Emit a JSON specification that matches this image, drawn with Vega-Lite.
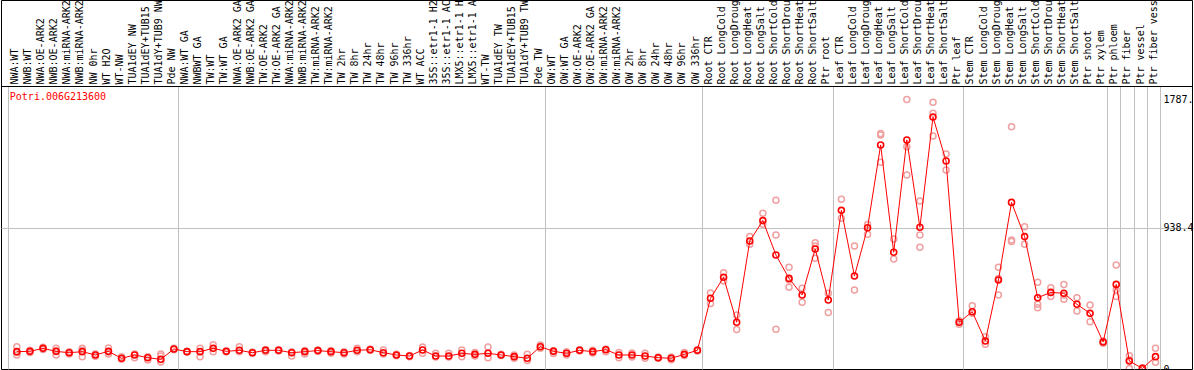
{
"$schema": "https://vega.github.io/schema/vega-lite/v6.json",
"autosize": "none",
"width": 1191,
"height": 369,
"padding": {"left": 1, "top": 0, "right": 2, "bottom": 1},
"background": "white",
"config": {"view": {"stroke": "black", "strokeWidth": 1}, "font": "DejaVu Sans Mono"},
"resolve": {"axis": {"x": "independent"}},
"datasets": {
"means": [
{"i":0,"s":"NWA:WT","v":115},{"i":1,"s":"NWB:WT","v":117},{"i":2,"s":"NWA:OE-ARK2","v":137},{"i":3,"s":"NWB:OE-ARK2","v":117},{"i":4,"s":"NWA:miRNA-ARK2","v":108},{"i":5,"s":"NWB:miRNA-ARK2","v":115},{"i":6,"s":"NW 0hr","v":93},{"i":7,"s":"WT H2O","v":117},{"i":8,"s":"WT-NW","v":71},{"i":9,"s":"TUA1dEY NW","v":93},{"i":10,"s":"TUA1dEY+TUB15 NW","v":75},{"i":11,"s":"TUA1dY+TUB9 NW","v":64},{"i":12,"s":"Pde NW","v":133},
{"i":13,"s":"NWA:WT GA","v":115},{"i":14,"s":"NWBWT GA","v":115},{"i":15,"s":"TW:WT","v":137},{"i":16,"s":"TW:WT GA","v":117},{"i":17,"s":"NWA:OE-ARK2 GA","v":124},{"i":18,"s":"NWB:OE-ARK2 GA","v":108},{"i":19,"s":"TW:OE-ARK2","v":124},{"i":20,"s":"TW:OE-ARK2 GA","v":124},{"i":21,"s":"NWA:miRNA-ARK2 GA","v":108},{"i":22,"s":"NWB:miRNA-ARK2 GA","v":115},{"i":23,"s":"TW:miRNA-ARK2","v":122},{"i":24,"s":"TW:miRNA-ARK2 GA","v":115},{"i":25,"s":"TW 2hr","v":108},{"i":26,"s":"TW 8hr","v":124},{"i":27,"s":"TW 24hr","v":128},{"i":28,"s":"TW 48hr","v":108},{"i":29,"s":"TW 96hr","v":93},{"i":30,"s":"TW 336hr","v":86},{"i":31,"s":"WT ACC","v":126},{"i":32,"s":"35S::etr1-1 H2O","v":86},{"i":33,"s":"35S::etr1-1 ACC","v":86},{"i":34,"s":"LMX5::etr1-1 H2O","v":104},{"i":35,"s":"LMX5::etr1-1 ACC","v":97},{"i":36,"s":"WT-TW","v":104},{"i":37,"s":"TUA1dEY TW","v":93},{"i":38,"s":"TUA1dEY+TUB15 TW","v":82},{"i":39,"s":"TUA1dY+TUB9 TW","v":71},{"i":40,"s":"Pde TW","v":148},
{"i":41,"s":"OW:WT","v":117},{"i":42,"s":"OW:WT GA","v":104},{"i":43,"s":"OW:OE-ARK2","v":124},{"i":44,"s":"OW:OE-ARK2 GA","v":115},{"i":45,"s":"OW:miRNA-ARK2","v":128},{"i":46,"s":"OW:miRNA-ARK2 GA","v":93},{"i":47,"s":"OW 2hr","v":93},{"i":48,"s":"OW 8hr","v":86},{"i":49,"s":"OW 24hr","v":75},{"i":50,"s":"OW 48hr","v":71},{"i":51,"s":"OW 96hr","v":97},{"i":52,"s":"OW 336hr","v":124},
{"i":53,"s":"Root CTR","v":469},{"i":54,"s":"Root LongCold","v":608},{"i":55,"s":"Root LongDrought","v":310},{"i":56,"s":"Root LongHeat","v":849},{"i":57,"s":"Root LongSalt","v":984},{"i":58,"s":"Root ShortCold","v":756},{"i":59,"s":"Root ShortDrought","v":601},{"i":60,"s":"Root ShortHeat","v":491},{"i":61,"s":"Root ShortSalt","v":796},{"i":62,"s":"Ptr root","v":458},
{"i":63,"s":"Leaf CTR","v":1052},{"i":64,"s":"Leaf LongCold","v":617},{"i":65,"s":"Leaf LongDrought","v":937},{"i":66,"s":"Leaf LongHeat","v":1486},{"i":67,"s":"Leaf LongSalt","v":774},{"i":68,"s":"Leaf ShortCold","v":1519},{"i":69,"s":"Leaf ShortDrought","v":940},{"i":70,"s":"Leaf ShortHeat","v":1671},{"i":71,"s":"Leaf ShortSalt","v":1379},{"i":72,"s":"Ptr leaf","v":310},
{"i":73,"s":"Stem CTR","v":380},{"i":74,"s":"Stem LongCold","v":186},{"i":75,"s":"Stem LongDrought","v":590},{"i":76,"s":"Stem LongHeat","v":1105},{"i":77,"s":"Stem LongSalt","v":878},{"i":78,"s":"Stem ShortCold","v":473},{"i":79,"s":"Stem ShortDrought","v":508},{"i":80,"s":"Stem ShortHeat","v":502},{"i":81,"s":"Stem ShortSalt","v":429},{"i":82,"s":"Ptr shoot","v":369},{"i":83,"s":"Ptr xylem","v":179},
{"i":84,"s":"Ptr phloem","v":561},{"i":85,"s":"Ptr fiber","v":53},{"i":86,"s":"Ptr vessel","v":4},{"i":87,"s":"Ptr fiber vessel","v":82}
],
"reps": [
{"s":"NWA:WT","v":148},{"s":"NWA:WT","v":93},{"s":"NWA:WT","v":110},
{"s":"NWB:WT","v":125},{"s":"NWB:WT","v":110},
{"s":"NWA:OE-ARK2","v":145},{"s":"NWA:OE-ARK2","v":130},
{"s":"NWB:OE-ARK2","v":137},{"s":"NWB:OE-ARK2","v":93},{"s":"NWB:OE-ARK2","v":120},
{"s":"NWA:miRNA-ARK2","v":115},{"s":"NWA:miRNA-ARK2","v":100},
{"s":"NWB:miRNA-ARK2","v":137},{"s":"NWB:miRNA-ARK2","v":82},{"s":"NWB:miRNA-ARK2","v":125},
{"s":"NW 0hr","v":100},{"s":"NW 0hr","v":85},
{"s":"WT H2O","v":140},{"s":"WT H2O","v":100},{"s":"WT H2O","v":112},
{"s":"WT-NW","v":82},{"s":"WT-NW","v":64},
{"s":"TUA1dEY NW","v":100},{"s":"TUA1dEY NW","v":75},
{"s":"TUA1dEY+TUB15 NW","v":82},{"s":"TUA1dEY+TUB15 NW","v":60},
{"s":"TUA1dY+TUB9 NW","v":100},{"s":"TUA1dY+TUB9 NW","v":46},{"s":"TUA1dY+TUB9 NW","v":86},
{"s":"Pde NW","v":138},{"s":"Pde NW","v":128},
{"s":"NWA:WT GA","v":118},{"s":"NWA:WT GA","v":112},
{"s":"NWBWT GA","v":137},{"s":"NWBWT GA","v":82},
{"s":"TW:WT","v":160},{"s":"TW:WT","v":115},
{"s":"TW:WT GA","v":120},{"s":"TW:WT GA","v":114},
{"s":"NWA:OE-ARK2 GA","v":148},{"s":"NWA:OE-ARK2 GA","v":115},
{"s":"NWB:OE-ARK2 GA","v":112},{"s":"NWB:OE-ARK2 GA","v":104},
{"s":"TW:OE-ARK2","v":130},{"s":"TW:OE-ARK2","v":115},
{"s":"TW:OE-ARK2 GA","v":128},{"s":"TW:OE-ARK2 GA","v":120},
{"s":"NWA:miRNA-ARK2 GA","v":115},{"s":"NWA:miRNA-ARK2 GA","v":86},
{"s":"NWB:miRNA-ARK2 GA","v":122},{"s":"NWB:miRNA-ARK2 GA","v":100},
{"s":"TW:miRNA-ARK2","v":126},{"s":"TW:miRNA-ARK2","v":118},
{"s":"TW:miRNA-ARK2 GA","v":122},{"s":"TW:miRNA-ARK2 GA","v":104},
{"s":"TW 2hr","v":115},{"s":"TW 2hr","v":100},
{"s":"TW 8hr","v":137},{"s":"TW 8hr","v":115},
{"s":"TW 24hr","v":132},{"s":"TW 24hr","v":124},
{"s":"TW 48hr","v":126},{"s":"TW 48hr","v":100},
{"s":"TW 96hr","v":97},{"s":"TW 96hr","v":88},
{"s":"TW 336hr","v":90},{"s":"TW 336hr","v":82},
{"s":"WT ACC","v":146},{"s":"WT ACC","v":104},
{"s":"35S::etr1-1 H2O","v":104},{"s":"35S::etr1-1 H2O","v":80},
{"s":"35S::etr1-1 ACC","v":104},{"s":"35S::etr1-1 ACC","v":80},
{"s":"LMX5::etr1-1 H2O","v":126},{"s":"LMX5::etr1-1 H2O","v":82},
{"s":"LMX5::etr1-1 ACC","v":110},{"s":"LMX5::etr1-1 ACC","v":86},
{"s":"WT-TW","v":146},{"s":"WT-TW","v":75},
{"s":"TUA1dEY TW","v":97},{"s":"TUA1dEY TW","v":90},
{"s":"TUA1dEY+TUB15 TW","v":93},{"s":"TUA1dEY+TUB15 TW","v":71},
{"s":"TUA1dY+TUB9 TW","v":97},{"s":"TUA1dY+TUB9 TW","v":57},
{"s":"Pde TW","v":159},{"s":"Pde TW","v":137},
{"s":"OW:WT","v":102},{"s":"OW:WT","v":122},
{"s":"OW:WT GA","v":115},{"s":"OW:WT GA","v":93},
{"s":"OW:OE-ARK2","v":128},{"s":"OW:OE-ARK2","v":120},
{"s":"OW:OE-ARK2 GA","v":124},{"s":"OW:OE-ARK2 GA","v":106},
{"s":"OW:miRNA-ARK2","v":133},{"s":"OW:miRNA-ARK2","v":115},
{"s":"OW:miRNA-ARK2 GA","v":110},{"s":"OW:miRNA-ARK2 GA","v":75},
{"s":"OW 2hr","v":106},{"s":"OW 2hr","v":80},
{"s":"OW 8hr","v":104},{"s":"OW 8hr","v":71},
{"s":"OW 24hr","v":80},{"s":"OW 24hr","v":71},
{"s":"OW 48hr","v":80},{"s":"OW 48hr","v":62},
{"s":"OW 96hr","v":110},{"s":"OW 96hr","v":90},
{"s":"OW 336hr","v":128},{"s":"OW 336hr","v":120},
{"s":"Root CTR","v":504},{"s":"Root CTR","v":434},
{"s":"Root LongCold","v":639},{"s":"Root LongCold","v":583},
{"s":"Root LongDrought","v":358},{"s":"Root LongDrought","v":262},
{"s":"Root LongHeat","v":878},{"s":"Root LongHeat","v":827},
{"s":"Root LongSalt","v":1033},{"s":"Root LongSalt","v":960},
{"s":"Root ShortCold","v":1119},{"s":"Root ShortCold","v":889},{"s":"Root ShortCold","v":263},
{"s":"Root ShortDrought","v":674},{"s":"Root ShortDrought","v":542},{"s":"Root ShortDrought","v":590},
{"s":"Root ShortHeat","v":535},{"s":"Root ShortHeat","v":442},
{"s":"Root ShortSalt","v":838},{"s":"Root ShortSalt","v":734},{"s":"Root ShortSalt","v":815},
{"s":"Ptr root","v":502},{"s":"Ptr root","v":374},
{"s":"Leaf CTR","v":1125},{"s":"Leaf CTR","v":999},
{"s":"Leaf LongCold","v":816},{"s":"Leaf LongCold","v":524},
{"s":"Leaf LongDrought","v":959},{"s":"Leaf LongDrought","v":893},
{"s":"Leaf LongHeat","v":1552},{"s":"Leaf LongHeat","v":1371},{"s":"Leaf LongHeat","v":1562},
{"s":"Leaf LongSalt","v":862},{"s":"Leaf LongSalt","v":730},
{"s":"Leaf ShortCold","v":1787.4},{"s":"Leaf ShortCold","v":1287},{"s":"Leaf ShortCold","v":1474},
{"s":"Leaf ShortDrought","v":1114},{"s":"Leaf ShortDrought","v":889},{"s":"Leaf ShortDrought","v":807},
{"s":"Leaf ShortHeat","v":1769},{"s":"Leaf ShortHeat","v":1696},{"s":"Leaf ShortHeat","v":1545},
{"s":"Leaf ShortSalt","v":1426},{"s":"Leaf ShortSalt","v":1320},
{"s":"Ptr leaf","v":296},{"s":"Ptr leaf","v":320},
{"s":"Stem CTR","v":420},{"s":"Stem CTR","v":370},
{"s":"Stem LongCold","v":214},{"s":"Stem LongCold","v":164},
{"s":"Stem LongDrought","v":674},{"s":"Stem LongDrought","v":491},{"s":"Stem LongDrought","v":600},
{"s":"Stem LongHeat","v":1607},{"s":"Stem LongHeat","v":856},{"s":"Stem LongHeat","v":845},
{"s":"Stem LongSalt","v":944},{"s":"Stem LongSalt","v":827},
{"s":"Stem ShortCold","v":575},{"s":"Stem ShortCold","v":407},{"s":"Stem ShortCold","v":430},
{"s":"Stem ShortDrought","v":539},{"s":"Stem ShortDrought","v":480},
{"s":"Stem ShortHeat","v":561},{"s":"Stem ShortHeat","v":462},{"s":"Stem ShortHeat","v":490},
{"s":"Stem ShortSalt","v":473},{"s":"Stem ShortSalt","v":385},
{"s":"Ptr shoot","v":424},{"s":"Ptr shoot","v":314},
{"s":"Ptr xylem","v":186},{"s":"Ptr xylem","v":170},
{"s":"Ptr phloem","v":690},{"s":"Ptr phloem","v":524},{"s":"Ptr phloem","v":480},
{"s":"Ptr fiber","v":88},{"s":"Ptr fiber","v":4},{"s":"Ptr fiber","v":60},
{"s":"Ptr vessel","v":0},{"s":"Ptr vessel","v":8},
{"s":"Ptr fiber vessel","v":137},{"s":"Ptr fiber vessel","v":44}
]
},
"layer": [
{
"data": {"name": "reps"},
"mark": {"type": "point", "shape": "circle", "filled": false, "size": 36, "strokeWidth": 1.5, "color": "#f0a0a0", "opacity": 1, "clip": true},
"encoding": {
"x": {"field": "s", "type": "nominal", "bandPosition": 0.64,
"scale": {"type": "band", "paddingInner": 0, "paddingOuter": 1.3077, "align": 0.2853,
"domain": ["NWA:WT","NWB:WT","NWA:OE-ARK2","NWB:OE-ARK2","NWA:miRNA-ARK2","NWB:miRNA-ARK2","NW 0hr","WT H2O","WT-NW","TUA1dEY NW","TUA1dEY+TUB15 NW","TUA1dY+TUB9 NW","Pde NW","NWA:WT GA","NWBWT GA","TW:WT","TW:WT GA","NWA:OE-ARK2 GA","NWB:OE-ARK2 GA","TW:OE-ARK2","TW:OE-ARK2 GA","NWA:miRNA-ARK2 GA","NWB:miRNA-ARK2 GA","TW:miRNA-ARK2","TW:miRNA-ARK2 GA","TW 2hr","TW 8hr","TW 24hr","TW 48hr","TW 96hr","TW 336hr","WT ACC","35S::etr1-1 H2O","35S::etr1-1 ACC","LMX5::etr1-1 H2O","LMX5::etr1-1 ACC","WT-TW","TUA1dEY TW","TUA1dEY+TUB15 TW","TUA1dY+TUB9 TW","Pde TW","OW:WT","OW:WT GA","OW:OE-ARK2","OW:OE-ARK2 GA","OW:miRNA-ARK2","OW:miRNA-ARK2 GA","OW 2hr","OW 8hr","OW 24hr","OW 48hr","OW 96hr","OW 336hr","Root CTR","Root LongCold","Root LongDrought","Root LongHeat","Root LongSalt","Root ShortCold","Root ShortDrought","Root ShortHeat","Root ShortSalt","Ptr root","Leaf CTR","Leaf LongCold","Leaf LongDrought","Leaf LongHeat","Leaf LongSalt","Leaf ShortCold","Leaf ShortDrought","Leaf ShortHeat","Leaf ShortSalt","Ptr leaf","Stem CTR","Stem LongCold","Stem LongDrought","Stem LongHeat","Stem LongSalt","Stem ShortCold","Stem ShortDrought","Stem ShortHeat","Stem ShortSalt","Ptr shoot","Ptr xylem","Ptr phloem","Ptr fiber","Ptr vessel","Ptr fiber vessel"," "]},
"axis": {"orient": "top", "offset": -86, "values": ["NWA:WT","NWA:WT GA","OW:WT","Root CTR","Leaf CTR","Stem CTR","Ptr phloem","Ptr fiber","Ptr vessel","Ptr fiber vessel"," "], "bandPosition": 0, "grid": true, "gridColor": "#c0c0c0", "gridWidth": 1, "gridOpacity": 1, "ticks": false, "labels": false, "domain": false, "title": null}},
"y": {"field": "v", "type": "quantitative",
"scale": {"domain": [0, 1876.8], "range": [369, 86], "nice": false, "zero": false},
"axis": {"orient": "right", "values": [0, 938.4, 1787.4, 1876.8],
"labelExpr": "datum.value == 0 ? '0' : datum.value == 938.4 ? '938.4' : datum.value == 1787.4 ? '1787.' : ''",
"grid": true,
"gridColor": {"condition": {"test": "datum.value > 1800", "value": "black"}, "value": "#c0c0c0"},
"gridOpacity": {"condition": {"test": "datum.value == 938.4 || datum.value > 1800", "value": 1}, "value": 0},
"ticks": false, "domain": false, "labelAlign": "left", "labelBaseline": "middle", "labelPadding": -29,
"labelFont": "DejaVu Sans Mono", "labelFontSize": 10, "labelColor": "black", "labelBound": false, "labelFlush": false, "labelOverlap": false,
"encode": {"labels": {"update": {"dy": {"signal": "datum.value == 0 ? -7 : datum.value > 1000 ? 10 : 2"}}}},
"title": "Potri.006G213600", "titleAngle": 0, "titleAlign": "left", "titleBaseline": "middle", "titleX": -1182.7, "titleY": 96.7,
"titleColor": "red", "titleFont": "DejaVu Sans Mono", "titleFontSize": 10, "titleFontWeight": "normal"}}
}
},
{
"data": {"name": "means"},
"mark": {"type": "line", "color": "red", "strokeWidth": 1, "clip": true},
"encoding": {
"order": {"field": "i", "type": "quantitative"},
"x": {"field": "s", "type": "nominal", "bandPosition": 0.64,
"scale": {"type": "band", "paddingInner": 0, "paddingOuter": 1.3077, "align": 0.2853,
"domain": ["NWA:WT","NWB:WT","NWA:OE-ARK2","NWB:OE-ARK2","NWA:miRNA-ARK2","NWB:miRNA-ARK2","NW 0hr","WT H2O","WT-NW","TUA1dEY NW","TUA1dEY+TUB15 NW","TUA1dY+TUB9 NW","Pde NW","NWA:WT GA","NWBWT GA","TW:WT","TW:WT GA","NWA:OE-ARK2 GA","NWB:OE-ARK2 GA","TW:OE-ARK2","TW:OE-ARK2 GA","NWA:miRNA-ARK2 GA","NWB:miRNA-ARK2 GA","TW:miRNA-ARK2","TW:miRNA-ARK2 GA","TW 2hr","TW 8hr","TW 24hr","TW 48hr","TW 96hr","TW 336hr","WT ACC","35S::etr1-1 H2O","35S::etr1-1 ACC","LMX5::etr1-1 H2O","LMX5::etr1-1 ACC","WT-TW","TUA1dEY TW","TUA1dEY+TUB15 TW","TUA1dY+TUB9 TW","Pde TW","OW:WT","OW:WT GA","OW:OE-ARK2","OW:OE-ARK2 GA","OW:miRNA-ARK2","OW:miRNA-ARK2 GA","OW 2hr","OW 8hr","OW 24hr","OW 48hr","OW 96hr","OW 336hr","Root CTR","Root LongCold","Root LongDrought","Root LongHeat","Root LongSalt","Root ShortCold","Root ShortDrought","Root ShortHeat","Root ShortSalt","Ptr root","Leaf CTR","Leaf LongCold","Leaf LongDrought","Leaf LongHeat","Leaf LongSalt","Leaf ShortCold","Leaf ShortDrought","Leaf ShortHeat","Leaf ShortSalt","Ptr leaf","Stem CTR","Stem LongCold","Stem LongDrought","Stem LongHeat","Stem LongSalt","Stem ShortCold","Stem ShortDrought","Stem ShortHeat","Stem ShortSalt","Ptr shoot","Ptr xylem","Ptr phloem","Ptr fiber","Ptr vessel","Ptr fiber vessel"," "]},
"axis": {"orient": "top", "offset": -86, "bandPosition": 0.64, "labelAngle": -90, "labelAlign": "left", "labelBaseline": "middle", "labelPadding": 2,
"labelFont": "DejaVu Sans Mono", "labelFontSize": 10, "labelColor": "black", "labelOverlap": false, "labelBound": false, "labelFlush": false, "labelLimit": 0,
"ticks": false, "domain": false, "grid": false, "title": null}},
"y": {"field": "v", "type": "quantitative",
"scale": {"domain": [0, 1876.8], "range": [369, 86], "nice": false, "zero": false},
"axis": {"orient": "right", "values": [0, 938.4, 1787.4, 1876.8],
"labelExpr": "datum.value == 0 ? '0' : datum.value == 938.4 ? '938.4' : datum.value == 1787.4 ? '1787.' : ''",
"grid": true,
"gridColor": {"condition": {"test": "datum.value > 1800", "value": "black"}, "value": "#c0c0c0"},
"gridOpacity": {"condition": {"test": "datum.value == 938.4 || datum.value > 1800", "value": 1}, "value": 0},
"ticks": false, "domain": false, "labelAlign": "left", "labelBaseline": "middle", "labelPadding": -29,
"labelFont": "DejaVu Sans Mono", "labelFontSize": 10, "labelColor": "black", "labelBound": false, "labelFlush": false, "labelOverlap": false,
"encode": {"labels": {"update": {"dy": {"signal": "datum.value == 0 ? -7 : datum.value > 1000 ? 10 : 2"}}}},
"title": "Potri.006G213600", "titleAngle": 0, "titleAlign": "left", "titleBaseline": "middle", "titleX": -1182.7, "titleY": 96.7,
"titleColor": "red", "titleFont": "DejaVu Sans Mono", "titleFontSize": 10, "titleFontWeight": "normal"}}
}
},
{
"data": {"name": "means"},
"mark": {"type": "point", "shape": "circle", "filled": false, "size": 36, "strokeWidth": 1.6, "color": "red", "opacity": 1, "clip": true},
"encoding": {
"x": {"field": "s", "type": "nominal", "bandPosition": 0.64,
"scale": {"type": "band", "paddingInner": 0, "paddingOuter": 1.3077, "align": 0.2853,
"domain": ["NWA:WT","NWB:WT","NWA:OE-ARK2","NWB:OE-ARK2","NWA:miRNA-ARK2","NWB:miRNA-ARK2","NW 0hr","WT H2O","WT-NW","TUA1dEY NW","TUA1dEY+TUB15 NW","TUA1dY+TUB9 NW","Pde NW","NWA:WT GA","NWBWT GA","TW:WT","TW:WT GA","NWA:OE-ARK2 GA","NWB:OE-ARK2 GA","TW:OE-ARK2","TW:OE-ARK2 GA","NWA:miRNA-ARK2 GA","NWB:miRNA-ARK2 GA","TW:miRNA-ARK2","TW:miRNA-ARK2 GA","TW 2hr","TW 8hr","TW 24hr","TW 48hr","TW 96hr","TW 336hr","WT ACC","35S::etr1-1 H2O","35S::etr1-1 ACC","LMX5::etr1-1 H2O","LMX5::etr1-1 ACC","WT-TW","TUA1dEY TW","TUA1dEY+TUB15 TW","TUA1dY+TUB9 TW","Pde TW","OW:WT","OW:WT GA","OW:OE-ARK2","OW:OE-ARK2 GA","OW:miRNA-ARK2","OW:miRNA-ARK2 GA","OW 2hr","OW 8hr","OW 24hr","OW 48hr","OW 96hr","OW 336hr","Root CTR","Root LongCold","Root LongDrought","Root LongHeat","Root LongSalt","Root ShortCold","Root ShortDrought","Root ShortHeat","Root ShortSalt","Ptr root","Leaf CTR","Leaf LongCold","Leaf LongDrought","Leaf LongHeat","Leaf LongSalt","Leaf ShortCold","Leaf ShortDrought","Leaf ShortHeat","Leaf ShortSalt","Ptr leaf","Stem CTR","Stem LongCold","Stem LongDrought","Stem LongHeat","Stem LongSalt","Stem ShortCold","Stem ShortDrought","Stem ShortHeat","Stem ShortSalt","Ptr shoot","Ptr xylem","Ptr phloem","Ptr fiber","Ptr vessel","Ptr fiber vessel"," "]},
"axis": null},
"y": {"field": "v", "type": "quantitative",
"scale": {"domain": [0, 1876.8], "range": [369, 86], "nice": false, "zero": false},
"axis": {"orient": "right", "values": [0, 938.4, 1787.4, 1876.8],
"labelExpr": "datum.value == 0 ? '0' : datum.value == 938.4 ? '938.4' : datum.value == 1787.4 ? '1787.' : ''",
"grid": true,
"gridColor": {"condition": {"test": "datum.value > 1800", "value": "black"}, "value": "#c0c0c0"},
"gridOpacity": {"condition": {"test": "datum.value == 938.4 || datum.value > 1800", "value": 1}, "value": 0},
"ticks": false, "domain": false, "labelAlign": "left", "labelBaseline": "middle", "labelPadding": -29,
"labelFont": "DejaVu Sans Mono", "labelFontSize": 10, "labelColor": "black", "labelBound": false, "labelFlush": false, "labelOverlap": false,
"encode": {"labels": {"update": {"dy": {"signal": "datum.value == 0 ? -7 : datum.value > 1000 ? 10 : 2"}}}},
"title": "Potri.006G213600", "titleAngle": 0, "titleAlign": "left", "titleBaseline": "middle", "titleX": -1182.7, "titleY": 96.7,
"titleColor": "red", "titleFont": "DejaVu Sans Mono", "titleFontSize": 10, "titleFontWeight": "normal"}}
}
}
]
}
